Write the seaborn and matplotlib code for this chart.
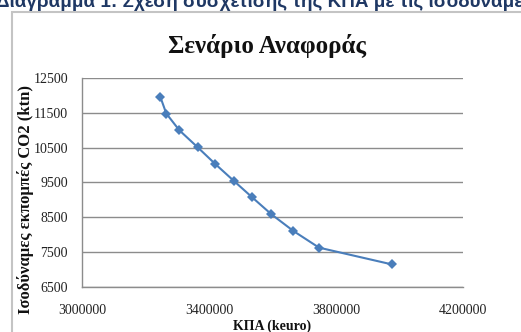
import matplotlib
matplotlib.use("Agg")
import matplotlib.pyplot as plt
from matplotlib.patches import Rectangle
import seaborn as sns
import pandas as pd

# Cost (keuro) vs. equivalent CO2 emissions (ktn), reference scenario
kpa_keuro = [3246600, 3265500, 3306500, 3364400, 3419800, 3477800,
             3536500, 3596200, 3665500, 3746500, 3975400]
co2_ktn = [11960, 11480, 11000, 10510, 10030, 9550,
           9070, 8590, 8110, 7630, 7150]
x_ticks = [3000000, 3400000, 3800000, 4200000]
y_ticks = [6500, 7500, 8500, 9500, 10500, 11500, 12500]

title = "Σενάριο Αναφοράς"
caption = "Διάγραμμα 1: Σχέση συσχέτισης της ΚΠΑ με τις ισοδύναμες εκπομπές CO2"
x_label = "ΚΠΑ (keuro)"
y_label = "Ισοδύναμες εκπομπές CO2 (ktn)"

df = pd.DataFrame({"kpa": kpa_keuro, "co2": co2_ktn})

sns.set_theme(style="white")
plt.rcParams["font.family"] = ["Liberation Serif", "DejaVu Serif"]

W, H = 521, 332
fig = plt.figure(figsize=(W / 100, H / 100), dpi=100)
ax = fig.add_axes([82 / W, 1 - 287 / H, (463 - 82) / W, (287 - 78) / H])

sns.lineplot(data=df, x="kpa", y="co2", ax=ax, color="#4A7EBB",
             marker="D", markersize=5, markeredgewidth=0, linewidth=1.5)

ax.set_xlim(x_ticks[0], x_ticks[-1])
ax.set_ylim(y_ticks[0], y_ticks[-1])
ax.set_xticks(x_ticks)
ax.set_yticks(y_ticks)
ax.set_xticklabels([str(v) for v in x_ticks])
ax.set_yticklabels([str(v) for v in y_ticks])
ax.yaxis.grid(True, color="#8c8c8c", linewidth=1)
ax.xaxis.grid(False)
ax.set_axisbelow(True)
for side in ("top", "right"):
    ax.spines[side].set_visible(False)
for side in ("left", "bottom"):
    ax.spines[side].set_color("#8c8c8c")
    ax.spines[side].set_linewidth(1)
ax.tick_params(axis="both", which="both", length=4, width=1, color="#8c8c8c",
               labelsize=10, labelcolor="#222222", direction="out")
ax.tick_params(axis="y", pad=6)
ax.tick_params(axis="x", pad=8)
ax.set_xlabel("")
ax.set_ylabel("")

# chart frame
fig.patches.append(Rectangle((12 / W, -0.05), 1.1, 1 - 12 / H + 0.05,
                             transform=fig.transFigure, fill=False,
                             edgecolor="#c4c4c4", linewidth=1.5))

fig.text(267 / W, 1 - 46 / H, title, ha="center", va="center",
         fontsize=18, fontweight="bold", color="#111111")
fig.text(26 / W, 1 - 200 / H, y_label, ha="center", va="center",
         rotation=90, fontsize=12, fontweight="bold", color="#111111")
fig.text(272 / W, 1 - 326 / H, x_label, ha="center", va="center",
         fontsize=10, fontweight="bold", color="#111111")
fig.text(-4 / W, 1 - 7 / H, caption, ha="left", va="baseline",
         fontsize=13.6, fontweight="bold", color="#1F3864",
         family=["Liberation Sans", "DejaVu Sans"])

fig.savefig("out.png", dpi=100)
